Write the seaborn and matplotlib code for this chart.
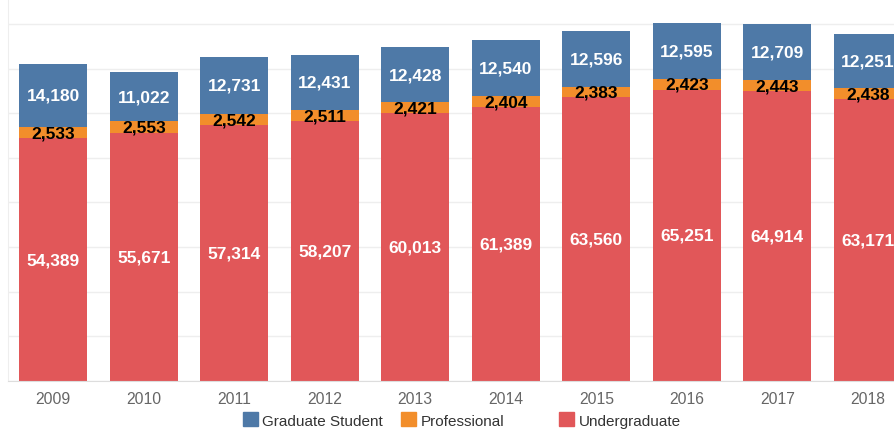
import numpy as np
import pandas as pd
import matplotlib.pyplot as plt
import matplotlib.patches as mpatches
import seaborn as sns

years = ["2009", "2010", "2011", "2012", "2013", "2014", "2015", "2016", "2017", "2018"]
undergrad = [54389, 55671, 57314, 58207, 60013, 61389, 63560, 65251, 64914, 63171]
professional = [2533, 2553, 2542, 2511, 2421, 2404, 2383, 2423, 2443, 2438]
graduate = [14180, 11022, 12731, 12431, 12428, 12540, 12596, 12595, 12709, 12251]

series = ["Undergraduate", "Professional", "Graduate Student"]
values = [undergrad, professional, graduate]
colors = ["#E15759", "#F28E2B", "#4E79A7"]
label_colors = ["white", "black", "white"]

sns.set_style("white")
plt.rcParams['font.family'] = ['Liberation Sans', 'DejaVu Sans']

fig = plt.figure(figsize=(8.94, 4.31), dpi=100)
ax = fig.add_axes([8 / 894, 49 / 431, 1 - 8 / 894, 1 - 49 / 431])

bottom = np.zeros(len(years))
for name, vals, col, lcol in zip(series, values, colors, label_colors):
    df = pd.DataFrame({"year": years, "value": vals})
    sns.barplot(data=df, x="year", y="value", color=col, bottom=bottom,
                width=0.75, ax=ax, saturation=1, linewidth=0)
    for i, v in enumerate(vals):
        ax.text(i, bottom[i] + v / 2, f"{v:,}", ha="center", va="center",
                color=lcol, fontsize=12.5, fontweight="bold", clip_on=True)
    bottom = bottom + np.array(vals)

ax.set_yticks(np.arange(0, 90000, 10000))
ax.set_yticklabels([])
ax.yaxis.grid(True, color="#eeeeee", linewidth=1)
ax.set_axisbelow(True)
ax.set_xlabel("")
ax.set_ylabel("")
for s in ["top", "right"]:
    ax.spines[s].set_visible(False)
ax.spines["left"].set_color("#eeeeee")
ax.spines["bottom"].set_color("#dddddd")
ax.tick_params(axis="x", length=0, colors="#666666", labelsize=11.3, pad=7)
ax.tick_params(axis="y", length=0)
ax.set_xticks(np.arange(-0.5, 10, 1), minor=True)
ax.tick_params(axis="x", which="minor", length=6, color="#dddddd")
ax.set_xlim(-0.5, 9.29)
ax.set_ylim(0, 85600)

legend_order = [("Graduate Student", "#4E79A7", 240), ("Professional", "#F28E2B", 398),
                ("Undergraduate", "#E15759", 556)]
for name, col, xp in legend_order:
    h = mpatches.Patch(color=col, label=name)
    fig.legend(handles=[h], loc="center left", bbox_to_anchor=(xp / 894 - 0.0125, 10 / 431),
               frameon=False, handlelength=1.0, handleheight=1.0, handletextpad=0.3,
               prop={"size": 11}, labelcolor="#333333")

fig.savefig("out.png", dpi=100)
